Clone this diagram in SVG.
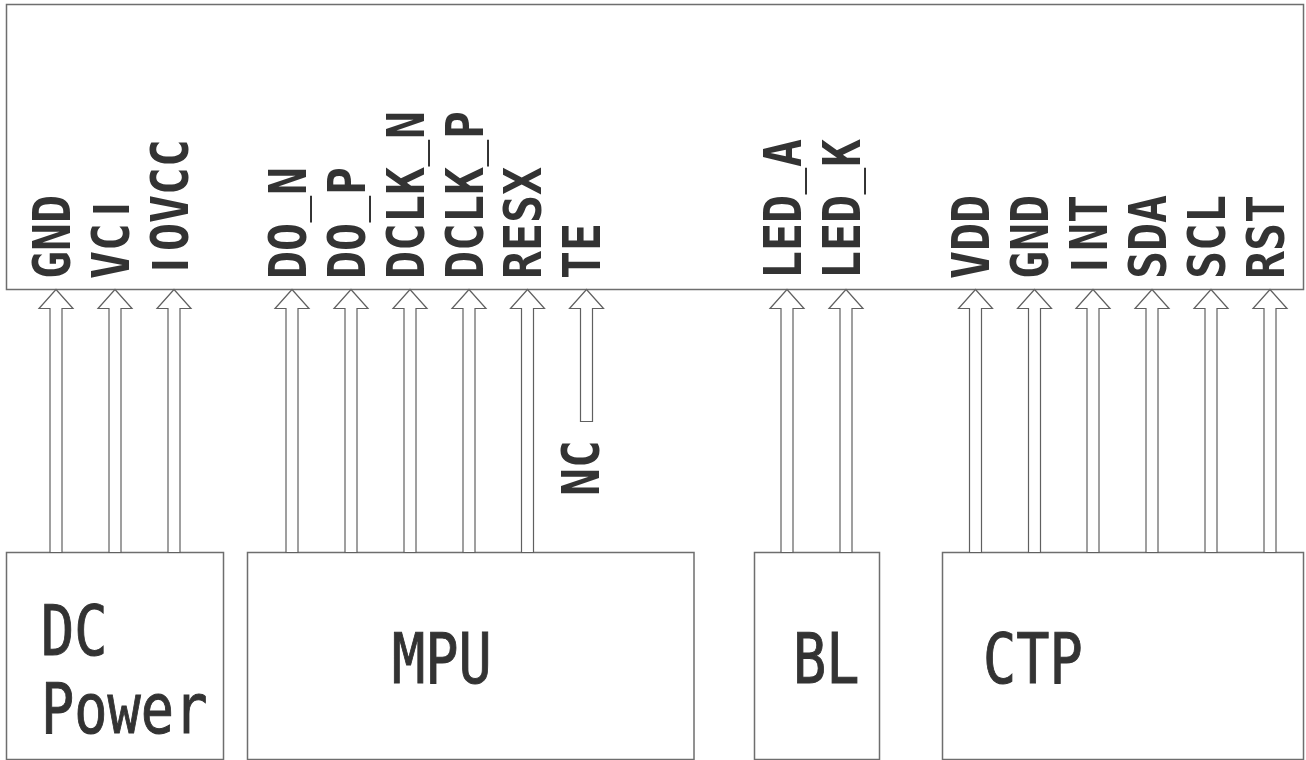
<svg xmlns="http://www.w3.org/2000/svg" width="1306" height="760" viewBox="0 0 1306 760">
<style>
.box{fill:#ffffff;stroke:#6e6e6e;stroke-width:1.5}
.arr{fill:#ffffff;stroke:#606060;stroke-width:1.2}
.pin{font-family:"DejaVu Sans Mono","Liberation Mono",monospace;font-weight:bold;font-size:52px;fill:#333333;text-anchor:middle}
.bar{font-family:"Liberation Sans",Arial,sans-serif}
.lbl{font-family:"DejaVu Sans Mono","Liberation Mono",monospace;font-size:69px;fill:#333333;text-anchor:middle;stroke:#333333;stroke-width:1}
</style>
<defs>
<path id="arrLong" d="M0,0 L17,19 L6,19 L6,263 L-6,263 L-6,19 L-17,19 Z"/>
<path id="arrShort" d="M0,0 L17,19 L6,19 L6,132 L-6,132 L-6,19 L-17,19 Z"/>
</defs>
<rect width="1306" height="760" fill="#ffffff"/>

<g id="lcd">
<rect class="box" x="6.5" y="4.5" width="1297" height="285"/>
<g class="pin">
<text transform="translate(69.5,279) rotate(-90) scale(0.895,1)" x="15.64 46.93 78.21">GND</text>
<text transform="translate(128.5,279) rotate(-90) scale(0.895,1)" x="15.64 46.93 78.21">VC<tspan class="bar">I</tspan></text>
<text transform="translate(187.5,279) rotate(-90) scale(0.895,1)" x="15.64 46.93 78.21 109.5 140.78"><tspan class="bar">I</tspan>OVCC</text>
<text transform="translate(305.5,279) rotate(-90) scale(0.895,1)" x="15.64 46.93 78.21 109.5">DO<tspan class="bar">_</tspan>N</text>
<text transform="translate(364.5,279) rotate(-90) scale(0.895,1)" x="15.64 46.93 78.21 109.5">DO<tspan class="bar">_</tspan>P</text>
<text transform="translate(423.5,279) rotate(-90) scale(0.895,1)" x="15.64 46.93 78.21 109.5 140.78 172.07">DCLK<tspan class="bar">_</tspan>N</text>
<text transform="translate(482.5,279) rotate(-90) scale(0.895,1)" x="15.64 46.93 78.21 109.5 140.78 172.07">DCLK<tspan class="bar">_</tspan>P</text>
<text transform="translate(541,279) rotate(-90) scale(0.895,1)" x="15.64 46.93 78.21 109.5">RESX</text>
<text transform="translate(600,279) rotate(-90) scale(0.895,1)" x="15.64 46.93">TE</text>
<text transform="translate(800.5,279) rotate(-90) scale(0.895,1)" x="15.64 46.93 78.21 109.5 140.78">LED<tspan class="bar">_</tspan>A</text>
<text transform="translate(859.5,279) rotate(-90) scale(0.895,1)" x="15.64 46.93 78.21 109.5 140.78">LED<tspan class="bar">_</tspan>K</text>
<text transform="translate(989,279) rotate(-90) scale(0.895,1)" x="15.64 46.93 78.21">VDD</text>
<text transform="translate(1048,279) rotate(-90) scale(0.895,1)" x="15.64 46.93 78.21">GND</text>
<text transform="translate(1106.5,279) rotate(-90) scale(0.895,1)" x="15.64 46.93 78.21"><tspan class="bar">I</tspan>NT</text>
<text transform="translate(1165.5,279) rotate(-90) scale(0.895,1)" x="15.64 46.93 78.21">SDA</text>
<text transform="translate(1224.5,279) rotate(-90) scale(0.895,1)" x="15.64 46.93 78.21">SCL</text>
<text transform="translate(1283.5,279) rotate(-90) scale(0.895,1)" x="15.64 46.93 78.21">RST</text>
</g>
</g>

<g id="nc">
<text class="pin" transform="translate(599,496) rotate(-90) scale(0.895,1)" x="15.64 46.93">NC</text>
</g>

<g id="dc-power">
<rect class="box" x="6.5" y="552.5" width="217" height="207"/>
<text class="lbl" transform="translate(41,655) scale(0.8,1)" x="20.8 62.4">DC</text>
<text class="lbl" transform="translate(41,733) scale(0.8,1)" x="20.8 62.4 104 145.6 187.2">Power</text>
</g>

<g id="mpu">
<rect class="box" x="247.5" y="552.5" width="446.5" height="207"/>
<text class="lbl" transform="translate(392,683) scale(0.8,1)" x="20.8 62.4 104">MPU</text>
</g>

<g id="bl">
<rect class="box" x="754.5" y="552.5" width="125" height="207"/>
<text class="lbl" transform="translate(793,683) scale(0.8,1)" x="20.8 62.4">BL</text>
</g>

<g id="ctp">
<rect class="box" x="942.5" y="552.5" width="361" height="207"/>
<text class="lbl" transform="translate(983,683) scale(0.8,1)" x="20.8 62.4 104">CTP</text>
</g>

<g id="connectors" class="arr">
<use href="#arrLong" x="56" y="289.5"/>
<use href="#arrLong" x="115" y="289.5"/>
<use href="#arrLong" x="174" y="289.5"/>
<use href="#arrLong" x="292" y="289.5"/>
<use href="#arrLong" x="351" y="289.5"/>
<use href="#arrLong" x="410" y="289.5"/>
<use href="#arrLong" x="469" y="289.5"/>
<use href="#arrLong" x="527.5" y="289.5"/>
<use href="#arrShort" x="586.5" y="289.5"/>
<use href="#arrLong" x="787" y="289.5"/>
<use href="#arrLong" x="846" y="289.5"/>
<use href="#arrLong" x="975.5" y="289.5"/>
<use href="#arrLong" x="1034.5" y="289.5"/>
<use href="#arrLong" x="1093" y="289.5"/>
<use href="#arrLong" x="1152" y="289.5"/>
<use href="#arrLong" x="1211" y="289.5"/>
<use href="#arrLong" x="1270" y="289.5"/>
</g>
</svg>
